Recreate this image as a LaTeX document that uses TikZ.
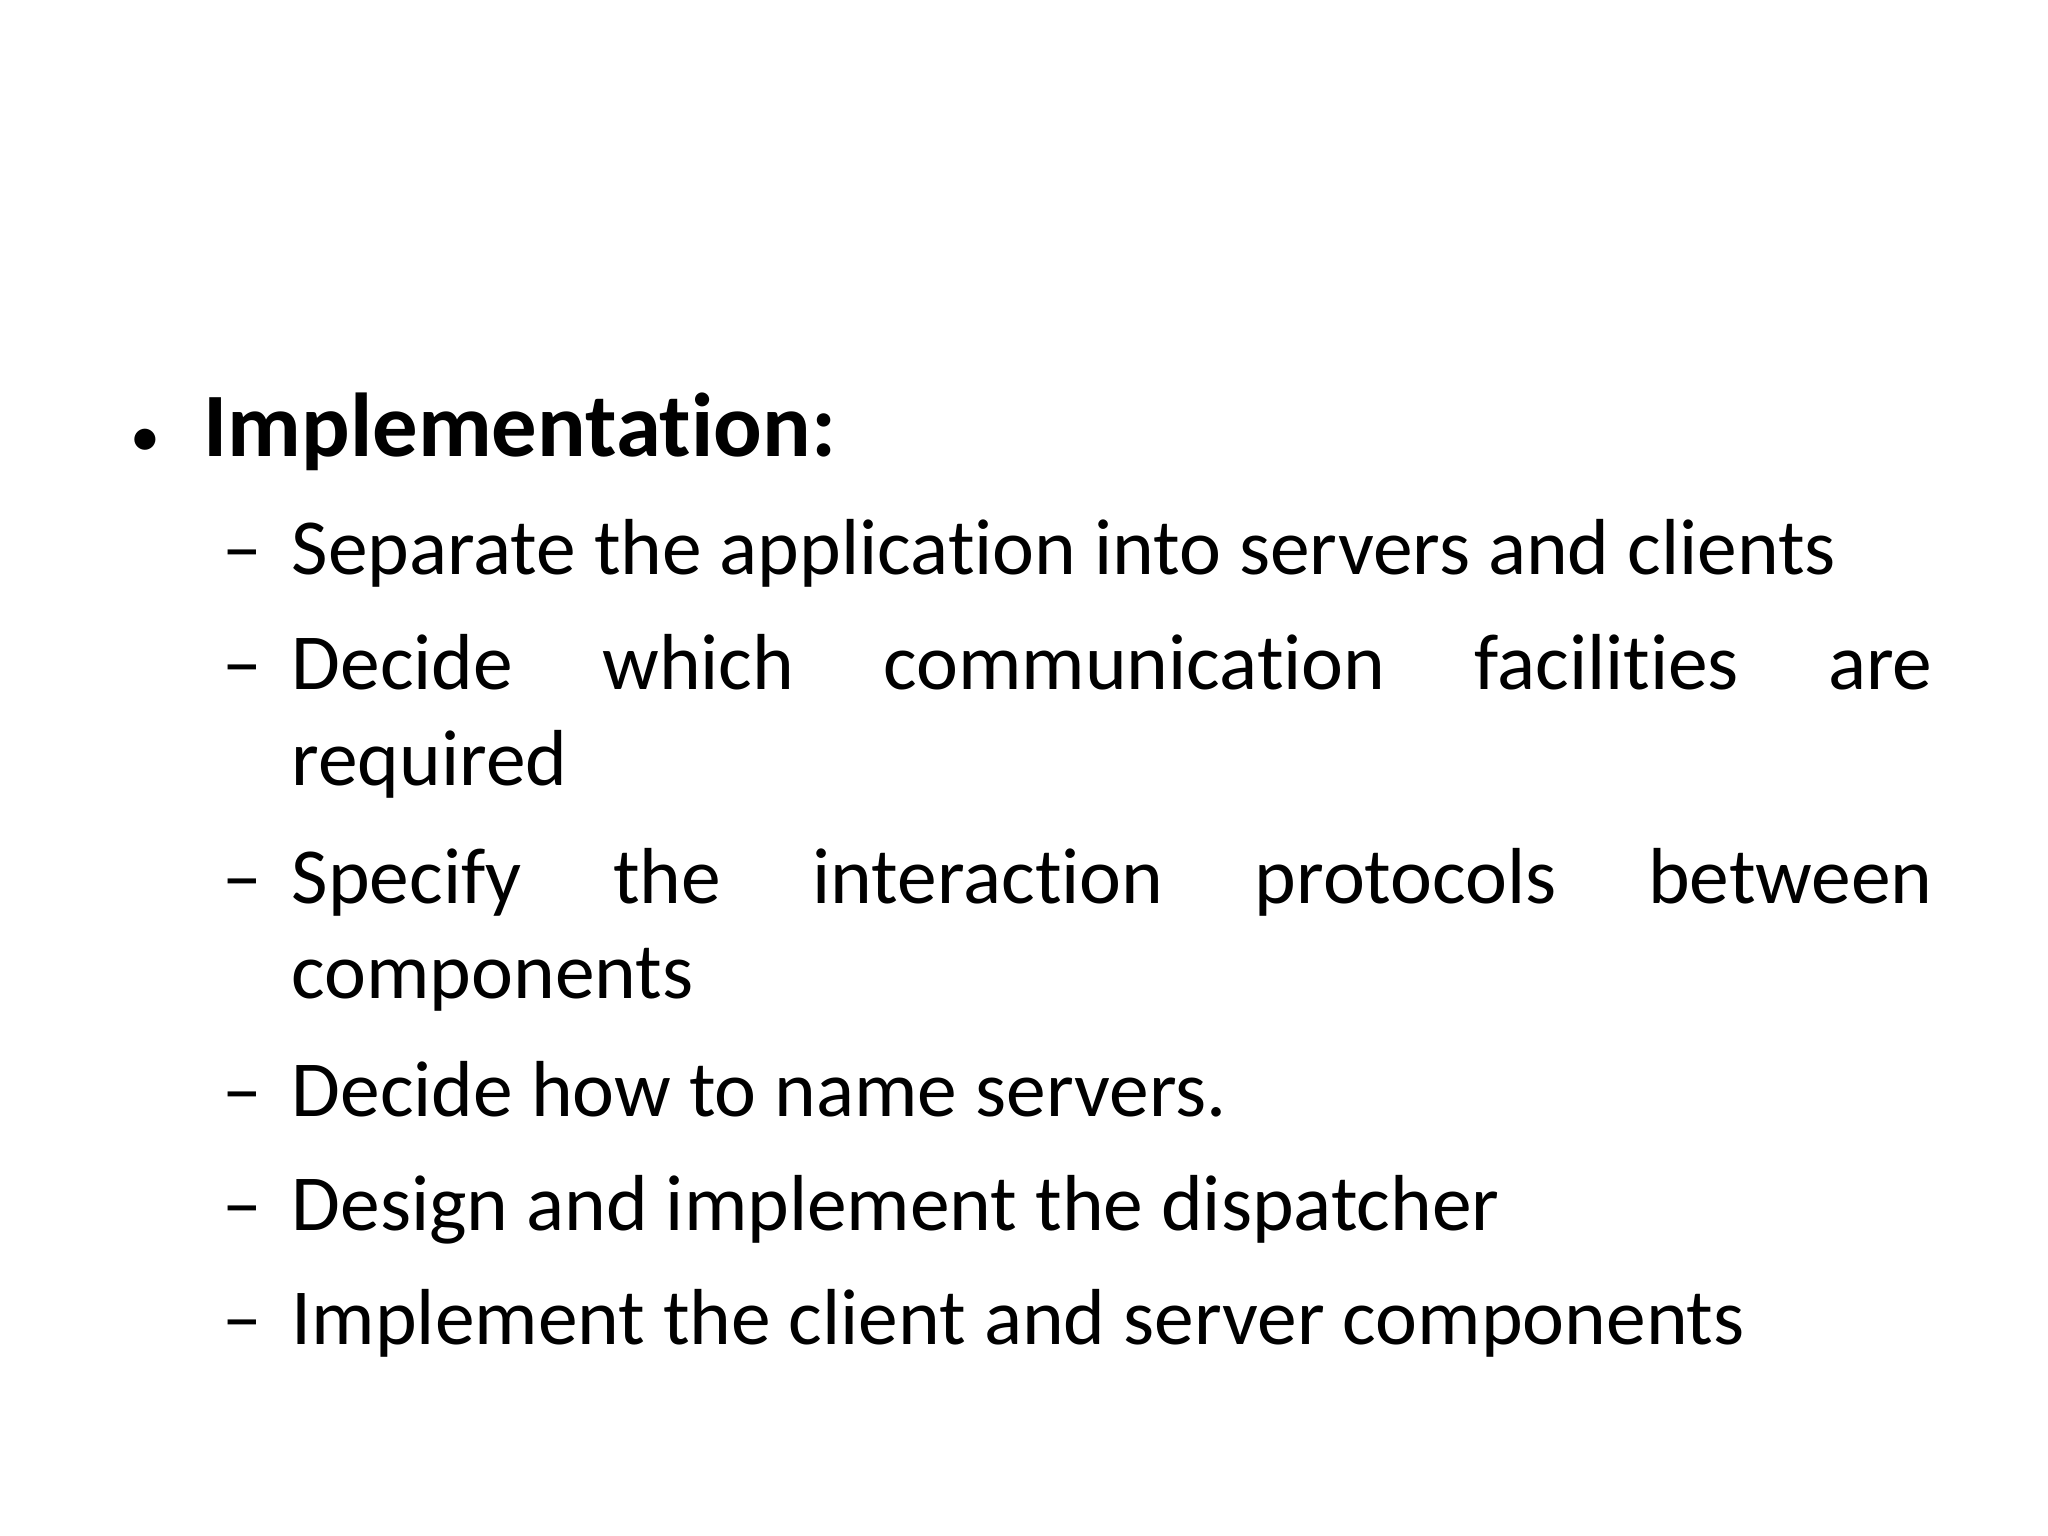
\documentclass[tikz,border=0pt]{standalone}
\usepackage{fontspec}
\setmainfont{Carlito}[Ligatures=NoCommon]
\begin{document}
\begin{tikzpicture}[x=1cm,y=1cm,
  item/.style={anchor=base west,inner sep=0pt,font=\fontsize{22.6}{26}\selectfont},
  head/.style={anchor=base west,inner sep=0pt,font=\fontsize{25.8}{30}\selectfont\bfseries}]
\useasboundingbox[fill=white] (0,0) rectangle (20.48,-15.36);
\node[anchor=base west,inner sep=0pt,font=\fontsize{17}{20}\selectfont] (b) at (1.30,-4.57) {•};
\node[head] (t) at (2.03,-4.57) {Implementation:};
\foreach \y/\n in {5.75/d1,6.89/d2,9.03/d3,11.16/d4,12.30/d5,13.44/d6}
  \node[item] (\n) at (2.22,-\y) {–};
\node[item] (l1) at (2.91,-5.75) {Separate the application into servers and clients};
\node[item,text width=16.41cm] (l2) at (2.91,-6.89) {Decide\hfill which\hfill communication\hfill facilities\hfill are};
\node[item] (l2b) at (2.91,-7.85) {required};
\node[item,text width=16.41cm] (l3) at (2.91,-9.03) {Specify\hfill the\hfill interaction\hfill protocols\hfill between};
\node[item] (l3b) at (2.91,-9.98) {components};
\node[item] (l4) at (2.91,-11.16) {Decide how to name servers.};
\node[item] (l5) at (2.91,-12.30) {Design and implement the dispatcher};
\node[item] (l6) at (2.91,-13.44) {Implement the client and server components};
\end{tikzpicture}
\end{document}
